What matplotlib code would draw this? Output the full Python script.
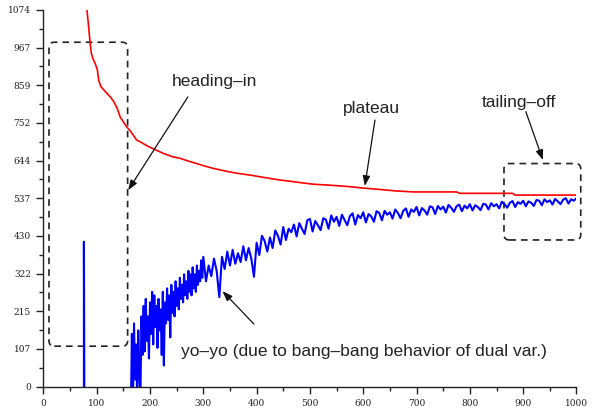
import numpy as np
import matplotlib
matplotlib.use("Agg")
import matplotlib.pyplot as plt
from matplotlib.patches import FancyBboxPatch
from matplotlib.ticker import MultipleLocator, FixedLocator

# ---------------- data ----------------
red_x = [80, 84, 87, 90, 93, 97, 101, 104, 108, 114,
         120, 126, 131, 138, 144, 150, 156, 162, 168, 175,
         185, 195, 209, 225, 243, 256, 270, 285, 300, 319,
         340, 360, 388, 415, 444, 475, 506, 540, 575, 600,
         631, 660, 693, 775, 781, 880, 885, 1000]
red_y = [1100, 1040, 990, 950, 935, 922, 905, 872, 855, 845,
         835, 825, 815, 795, 769, 755, 741, 731, 718, 703,
         695, 686, 676, 665, 655, 651, 644, 637, 630, 622,
         615, 609, 603, 596, 589, 583, 577, 574, 570, 566,
         562, 558, 555, 555, 551, 551, 546, 546]

# isolated spike of the dual value
spike_x = [76, 76, 77]
spike_y = [-100, 413, -100]

# dense early part (every 2 iterations, 164..300)
blue_early = [-80, 150, -50, 180, 20, 120, -40, 160, 40, -30,
              200, 90, 230, 100, 250, 130, 200, 80, 240, 150,
              270, 120, 260, 170, 230, 110, 250, 160, 220, 90,
              270, 60, 240, 180, 280, 190, 260, 140, 290, 210,
              270, 200, 300, 230, 280, 220, 310, 250, 290, 240,
              320, 260, 300, 250, 330, 270, 320, 260, 340, 280,
              320, 270, 345, 290, 330, 300, 360, 310, 370]
# later part (every 5 iterations, 305..1000)
blue_late = [300, 345, 315, 365, 330, 255, 370, 335, 385, 345,
             390, 350, 380, 355, 400, 360, 395, 365, 313, 410,
             375, 430, 415, 385, 425, 395, 445, 430, 405, 455,
             418, 450, 440, 462, 428, 466, 450, 435, 474, 478,
             442, 472, 460, 446, 480, 476, 450, 488, 470, 484,
             458, 490, 475, 460, 486, 494, 462, 489, 480, 497,
             468, 492, 485, 470, 500, 495, 474, 501, 490, 497,
             479, 505, 495, 480, 501, 508, 484, 505, 498, 512,
             488, 509, 502, 490, 514, 511, 492, 515, 505, 513,
             496, 518, 510, 498, 514, 519, 500, 516, 508, 520,
             502, 517, 512, 503, 521, 519, 505, 523, 514, 520,
             508, 527, 520, 510, 524, 529, 512, 526, 521, 530,
             514, 528, 524, 515, 532, 530, 517, 534, 526, 531,
             519, 535, 528, 520, 533, 537, 522, 534, 530, 537]
blue_early_x = np.arange(164, 301, 2)
blue_late_x = np.arange(305, 1001, 5)

y_ticks = [0, 107.4, 214.8, 322.2, 429.6, 537, 644.4, 751.8, 859.2, 966.6, 1074]
y_tick_labels = ["0", "107", "215", "322", "430", "537", "644", "752", "859", "967", "1074"]
x_ticks = [0, 100, 200, 300, 400, 500, 600, 700, 800, 900, 1000]
x_tick_labels = [str(v) for v in x_ticks]

annotations = ["heading\u2013in", "plateau", "tailing\u2013off",
               "yo\u2013yo (due to bang\u2013bang behavior of dual var.)"]

# ---------------- figure ----------------
fig = plt.figure(figsize=(6.01, 4.09), dpi=100)
ax = fig.add_axes([0.0722, 0.055, 0.8870, 0.9206])

bx = np.concatenate([spike_x, blue_early_x, blue_late_x])
by = np.concatenate([spike_y, blue_early, blue_late])
ax.plot(bx, by, color="#0000ff", lw=1.5)
ax.plot(red_x, red_y, color="#ff0000", lw=1.2)

ax.set_xlim(0, 1000)
ax.set_ylim(0, 1074)

for s in ["top", "right"]:
    ax.spines[s].set_visible(False)
for s in ["left", "bottom"]:
    ax.spines[s].set_linewidth(1.0)
    ax.spines[s].set_color("#222222")

ax.xaxis.set_major_locator(FixedLocator(x_ticks))
ax.set_xticklabels(x_tick_labels)
ax.xaxis.set_minor_locator(MultipleLocator(50))
ax.yaxis.set_major_locator(FixedLocator(y_ticks))
ax.set_yticklabels(y_tick_labels)
ax.yaxis.set_minor_locator(FixedLocator([53.7 + 107.4 * i for i in range(10)]))
ax.tick_params(which="major", direction="out", length=5, width=1.0, color="#222222",
               labelsize=6.5, pad=4)
ax.tick_params(which="minor", direction="out", length=3, width=1.0, color="#222222")
for lab in ax.get_xticklabels() + ax.get_yticklabels():
    lab.set_family("DejaVu Serif")
    lab.set_color("#222222")

# dashed rounded boxes
for (x0, y0, x1, y1) in [(10.5, 115, 158, 982), (864, 418, 1008, 636)]:
    p = FancyBboxPatch((x0, y0), x1 - x0, y1 - y0,
                       boxstyle="round,pad=0,rounding_size=10",
                       mutation_aspect=1.52, fill=False, ec="#222222",
                       lw=1.2, ls=(0, (4, 3)), transform=ax.transData, clip_on=False)
    ax.add_patch(p)

tkw = dict(fontfamily="Liberation Sans", fontsize=12.5, color="#222222", va="baseline")
ax.text(241, 858, annotations[0], **tkw)
ax.text(562, 779, annotations[1], **tkw)
ax.text(822, 798, annotations[2], **tkw)
ax.text(258, 87, annotations[3], **tkw)

akw = dict(arrowstyle="-|>,head_length=0.6,head_width=0.22", color="#111111",
           lw=0.9, shrinkA=0, shrinkB=0)
for tail, head in [((271, 826), (159, 560)),
                   ((622, 760), (603, 572)),
                   ((905, 784), (937, 646)),
                   ((395, 178), (336, 272))]:
    ax.annotate("", xy=head, xytext=tail, arrowprops=akw, annotation_clip=False)

fig.savefig("out.png", dpi=100)
